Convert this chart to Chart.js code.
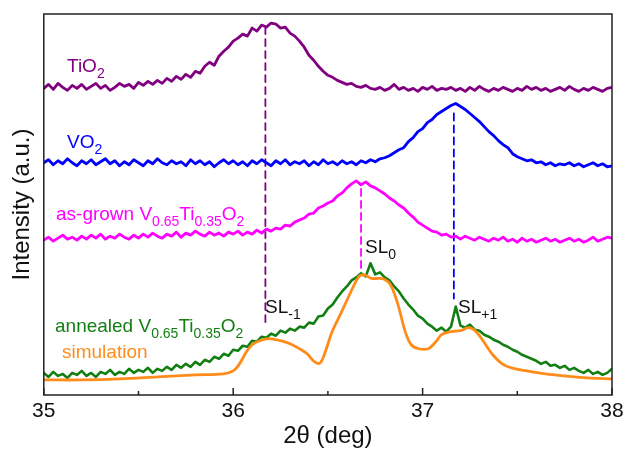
<!DOCTYPE html>
<html><head><meta charset="utf-8">
<script src="https://cdn.jsdelivr.net/npm/chart.js@4.4.0/dist/chart.umd.min.js"></script>
<style>html,body{margin:0;padding:0;background:#fff}#c{display:block}</style>
</head><body>
<canvas id="c" width="625" height="450"></canvas>
<script>
// ---- data (2θ grid in degrees, intensities in arbitrary offset units) ----
const twoTheta = Array.from({length:121},(_,i)=>Math.round((35+i*0.025)*1000)/1000);

const tio2 = [
305,309,304,310,306,303,308,305,309,304,
307,310,305,308,303,306,310,307,309,305,
311,308,312,309,313,310,315,312,317,314,
319,316,322,320,327,331,328,337,342,346,
352,355,359,357,365,362,368,366,370,369,
365,366,360,357,352,346,338,333,327,322,
318,316,313,311,309,310,307,306,308,305,
304,306,303,305,309,304,306,303,305,302,
306,304,307,303,305,304,306,303,305,302,
306,303,307,304,302,305,303,306,304,302,
305,303,307,304,306,303,305,302,304,306,
303,307,304,302,305,303,306,304,302,305,
306];

const vo2 = [
231,234,229,233,230,235,231,228,233,230,
234,229,232,235,230,233,228,232,229,234,
231,228,233,230,235,231,229,233,230,232,
228,234,230,233,229,232,227,231,234,230,
233,229,232,228,233,230,234,231,228,233,
230,234,229,232,230,233,228,232,229,234,
230,232,229,233,230,232,229,233,231,234,
232,235,236,238,241,244,246,252,256,262,
265,271,274,279,282,285,288,290,287,284,
280,276,272,267,262,258,253,249,246,240,
237,235,233,234,231,232,229,231,228,230,
229,231,228,230,227,229,231,228,230,227,
228];

const asGrown = [
154,157,153,156,159,155,157,154,158,155,
159,156,160,155,158,156,160,157,155,159,
156,160,157,161,158,156,160,158,162,157,
161,159,163,160,158,162,159,161,158,162,
160,163,159,162,160,164,161,165,163,166,
165,169,168,172,174,176,180,181,186,188,
191,193,198,201,206,210,213,209,212,208,
206,203,200,196,193,189,186,181,177,172,
169,166,163,162,159,160,157,158,155,158,
156,154,157,155,153,156,154,157,153,155,
152,156,153,155,152,154,156,153,155,152,
154,156,153,155,152,154,157,153,155,157,
156];

const annealed = [
22,18,23,19,21,17,22,20,24,19,
22,18,23,21,25,20,23,21,26,22,
25,23,27,22,26,24,28,25,30,27,
31,28,33,30,35,33,38,36,41,39,
45,44,49,48,54,53,58,57,61,59,
64,62,66,64,68,67,72,71,78,79,
86,90,97,103,108,114,117,121,118,131,
120,122,117,114,108,103,96,90,85,79,
76,71,68,64,67,63,68,88,69,67,
70,65,64,60,58,55,53,50,48,45,
43,40,38,36,34,31,33,29,30,27,
29,25,27,24,22,25,21,23,20,22,
26];

const simAngle = [35.0,35.2,35.4,35.6,35.8,35.95,36.0,36.03,36.07,36.1,36.14,36.19,36.25,36.3,36.35,36.39,36.43,36.46,36.49,36.52,36.56,36.6,36.64,36.67,36.7,36.73,36.77,36.8,36.83,36.86,36.88,36.91,36.94,36.98,37.03,37.07,37.1,37.15,37.2,37.24,37.27,37.3,37.34,37.37,37.42,37.47,37.55,37.65,37.75,37.87,38.0];
const simIntensity = [15,15,16,18,20,21,24,30,43,50,54,56,54,51,46,41,33,32,45,62,78,94,110,119,119,116,116,115,110,96,83,62,50,46,46,53,60,63,64,67,65,59,48,40,31,27,24,21,19,17,16];

// peak markers (dashed guides)
const markerAngle  = [36.17, 36.675, 37.165];
const markerTop    = [366, 205, 280];
const markerBottom = [68, 125, 96];

// text
const curveNames = ['TiO_{2}','VO_{2}','as-grown V_{0.65}Ti_{0.35}O_{2}','annealed V_{0.65}Ti_{0.35}O_{2}','simulation'];
const peakNames  = ['SL_{-1}','SL_{0}','SL_{+1}'];
const xTitle = '2θ (deg)';
const yTitle = 'Intensity (a.u.)';

// ---- styles ----
const FONT = "'Liberation Sans', Arial, Helvetica, sans-serif";
const colPurple = '#800080', colBlue = '#0000ff', colMagenta = '#ff00ff', colGreen = '#127f12', colOrange = '#ff8c1a';
const curveColors = [colPurple, colBlue, colMagenta, colGreen, colOrange];
const markerColors = [colPurple, colMagenta, colBlue];
const curveLabelPx = [[67,72],[67,148],[56,220],[55,332],[62,358]];
const peakLabelPx  = [[265,313],[365,253],[458,313]];

Chart.defaults.font.family = FONT;

function pts(xs, ys){ return xs.map((x,i)=>({x:x, y:ys[i]})); }

const datasets = [];
markerAngle.forEach((a,i)=>{
  datasets.push({data:[{x:a,y:markerTop[i]},{x:a,y:markerBottom[i]}], borderColor:markerColors[i], borderWidth:1.8, borderDash:[7,5], pointRadius:0, order:10, tension:0});
});
datasets.push({data:pts(twoTheta,tio2), borderColor:colPurple, borderWidth:2.8, pointRadius:0, order:5, tension:0});
datasets.push({data:pts(twoTheta,vo2), borderColor:colBlue, borderWidth:2.8, pointRadius:0, order:4, tension:0});
datasets.push({data:pts(twoTheta,asGrown), borderColor:colMagenta, borderWidth:2.8, pointRadius:0, order:3, tension:0});
datasets.push({data:pts(twoTheta,annealed), borderColor:colGreen, borderWidth:2.6, pointRadius:0, order:2, tension:0});
datasets.push({data:pts(simAngle,simIntensity), borderColor:colOrange, borderWidth:2.8, pointRadius:0, order:1, tension:0.35});

function drawRich(ctx, str, x, y, size, color){
  const parts = str.split(/(_\{[^}]*\})/).filter(s=>s.length);
  let cx = x;
  ctx.fillStyle = color;
  ctx.textBaseline = 'alphabetic';
  ctx.textAlign = 'left';
  parts.forEach(p=>{
    if (p.startsWith('_{')) {
      const t = p.slice(2,-1);
      ctx.font = `${Math.round(size*0.74)}px ${FONT}`;
      ctx.fillText(t, cx, y + size*0.3);
      cx += ctx.measureText(t).width;
    } else {
      ctx.font = `${size}px ${FONT}`;
      ctx.fillText(p, cx, y);
      cx += ctx.measureText(p).width;
    }
  });
}

const decor = {
  id:'decor',
  afterDraw(chart){
    const ctx = chart.ctx, a = chart.chartArea, xs = chart.scales.x;
    ctx.save();
    ctx.strokeStyle = '#222'; ctx.lineWidth = 1.5;
    ctx.strokeRect(a.left, a.top, a.right-a.left, a.bottom-a.top);
    xs.ticks.forEach(t=>{
      const px = xs.getPixelForValue(t.value);
      const len = Number.isInteger(t.value) ? 7 : 4;
      ctx.beginPath(); ctx.moveTo(px, a.bottom); ctx.lineTo(px, a.bottom-len); ctx.stroke();
    });
    curveNames.forEach((s,i)=>drawRich(ctx, s, curveLabelPx[i][0], curveLabelPx[i][1], 19, curveColors[i]));
    peakNames.forEach((s,i)=>drawRich(ctx, s, peakLabelPx[i][0], peakLabelPx[i][1], 19, '#111'));
    ctx.restore();
  }
};

new Chart(document.getElementById('c'), {
  type:'line',
  data:{datasets},
  options:{
    responsive:false, animation:false,
    layout:{padding:{left:0,right:13,top:14,bottom:0}},
    plugins:{legend:{display:false}, tooltip:{enabled:false}},
    elements:{line:{borderJoinStyle:'round', borderCapStyle:'round'}},
    scales:{
      x:{type:'linear', min:35, max:38,
         afterFit:(s)=>{ s.paddingLeft = 0; s.paddingRight = 0; },
         grid:{display:false, drawTicks:false}, border:{display:false},
         ticks:{stepSize:0.5, autoSkip:false, maxRotation:0, padding:4, color:'#111', font:{size:21},
                callback:(v)=>Number.isInteger(v)?String(v):''},
         title:{display:true, text:xTitle, color:'#111', font:{size:24, lineHeight:0.7}, padding:{top:0,bottom:5}}},
      y:{type:'linear', min:0, max:379,
         grid:{display:false, drawTicks:false}, border:{display:false},
         ticks:{display:false},
         title:{display:true, text:yTitle, color:'#111', font:{size:24}, padding:{top:8,bottom:7}}}
    }
  },
  plugins:[decor]
});
</script>
</body></html>
